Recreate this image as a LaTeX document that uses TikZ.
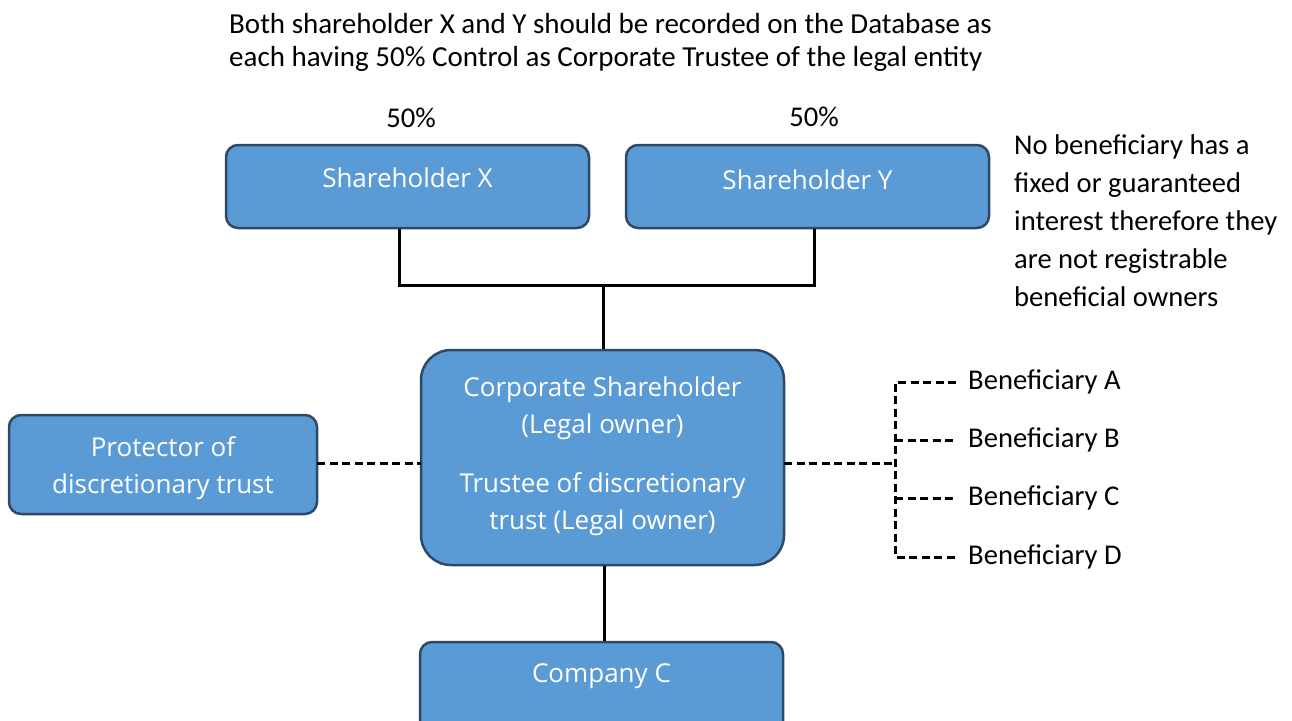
\documentclass[tikz,border=0pt]{standalone}
\usepackage{fontspec}
\setmainfont{Open Sans}
\newfontfamily\notefont{Carlito}
\definecolor{boxfill}{HTML}{5B9BD5}
\definecolor{boxline}{HTML}{2C4A68}
\begin{document}
\begin{tikzpicture}[x=1pt,y=-1pt,
  box/.style={draw=boxline, line width=2.5pt, fill=boxfill, rounded corners=12pt, inner sep=0pt},
  boxtext/.style={text=white, font=\fontsize{26}{37}\selectfont, align=center, inner sep=0pt},
  note/.style={font=\notefont\fontsize{28.6}{35}\selectfont, align=left, inner sep=0pt, anchor=west},
  link/.style={line width=3pt, black},
  dlink/.style={line width=3pt, black, dash pattern=on 8pt off 4.5pt}]
\useasboundingbox (0,0) rectangle (1292,720);
\clip (0,0) rectangle (1292,720);
% top text
\node[note, font=\notefont\fontsize{29}{35}\selectfont] (t1) at (229,24) {Both shareholder X and Y should be recorded on the Database as};
\node[note, font=\notefont\fontsize{29}{35}\selectfont] (t2) at (229,59) {each having 50\% Control as Corporate Trustee of the legal entity};
\node[note, anchor=center] (p1) at (411,118) {50\%};
\node[note, anchor=center] (p2) at (814,117) {50\%};
% boxes
\node[box, minimum width=363, minimum height=83] (sx) at (407.5,186.5) {};
\node[boxtext] (sxt) at (407.5,178) {Shareholder X};
\node[box, minimum width=363, minimum height=83] (sy) at (807.5,186.5) {};
\node[boxtext] (syt) at (807.5,180) {Shareholder Y};
\node[box, rounded corners=30pt, minimum width=363, minimum height=215] (cs) at (602.5,457.5) {};
\node[boxtext] (cst) at (602.5,456) {Corporate Shareholder\\(Legal owner)\\[22pt]Trustee of discretionary\\trust (Legal owner)};
\node[box, minimum width=308, minimum height=99] (pr) at (163,464.5) {};
\node[boxtext] (prt) at (163,468) {Protector of\\discretionary trust};
\node[box, minimum width=363, minimum height=110] (cc) at (601.5,697) {};
\node[boxtext] (cct) at (601.5,676) {Company C};
% right note
\node[note, anchor=north west, font=\notefont\fontsize{28.6}{38}\selectfont] (rn) at (1014,134)
  {No beneficiary has a\\fixed or guaranteed\\interest therefore they\\are not registrable\\beneficial owners};
% beneficiaries
\node[note] (ba) at (968,382) {Beneficiary A};
\node[note] (bb) at (968,440) {Beneficiary B};
\node[note] (bc) at (968,498) {Beneficiary C};
\node[note] (bd) at (968,557) {Beneficiary D};
\coordinate (jn) at (603,285);
\coordinate (br) at (895,463);
\coordinate (pl) at (317,463);
\coordinate (cl) at (421,463);
\coordinate (cr) at (784,463);
% solid connectors
\draw[link] (sx.south -| 399,0) |- (jn);
\draw[link] (sy.south -| 814,0) |- (jn);
\draw[link] (jn) -- (cs.north -| jn);
\draw[link] (cs.south -| 604,0) -- (cc.north -| 604,0);
% dashed connectors
\draw[dlink] (pl) -- (cl);
\draw[dlink] (cr) -- (br);
\draw[dlink] ([xshift=-12pt]ba.west) -| (br) |- ([xshift=-12pt]bd.west);
\draw[dlink] (br |- bb.west) -- ([xshift=-12pt]bb.west);
\draw[dlink] (br |- bc.west) -- ([xshift=-12pt]bc.west);
\end{tikzpicture}
\end{document}
